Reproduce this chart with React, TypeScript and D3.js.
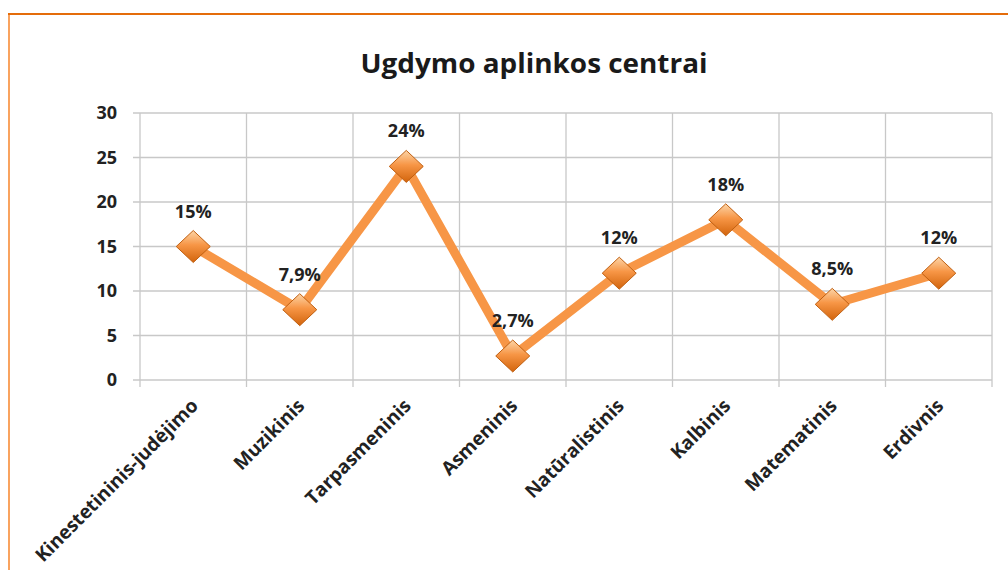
import React, { useEffect, useRef } from 'react';
import * as d3 from 'd3';

const categories = ['Kinestetininis-judėjimo', 'Muzikinis', 'Tarpasmeninis', 'Asmeninis', 'Natūralistinis', 'Kalbinis', 'Matematinis', 'Erdivnis'];
const values = [15, 7.9, 24, 2.7, 12, 18, 8.5, 12];
const valueLabels = ['15%', '7,9%', '24%', '2,7%', '12%', '18%', '8,5%', '12%'];
const yTicks = [0, 5, 10, 15, 20, 25, 30];

const W = 1008;
const H = 570;
const FONT = "'Open Sans', 'Liberation Sans', sans-serif";

export default function App() {
  const ref = useRef<SVGSVGElement>(null);

  useEffect(() => {
    const svg = d3.select(ref.current);
    svg.selectAll('*').remove();

    const left = 140, right = 992, top = 113, bottom = 380;

    const x = d3.scaleBand<string>().domain(categories).range([left, right]);
    const y = d3.scaleLinear().domain([0, 30]).range([bottom, top]);

    // marker gradient
    const defs = svg.append('defs');
    const grad = defs.append('linearGradient').attr('id', 'mk')
      .attr('x1', '0').attr('y1', '0').attr('x2', '0').attr('y2', '1');
    grad.append('stop').attr('offset', '0%').attr('stop-color', '#fcd5a8');
    grad.append('stop').attr('offset', '45%').attr('stop-color', '#f79646');
    grad.append('stop').attr('offset', '100%').attr('stop-color', '#d2640c');

    // frame
    svg.append('rect').attr('x', 0).attr('y', 0).attr('width', W).attr('height', H).attr('fill', '#fff');
    svg.append('line').attr('x1', 9).attr('x2', 9).attr('y1', 14).attr('y2', H)
      .attr('stroke', '#f9a35f').attr('stroke-width', 2);
    svg.append('line').attr('x1', 8).attr('x2', W).attr('y1', 14).attr('y2', 14)
      .attr('stroke', '#e46c0a').attr('stroke-width', 2);

    // title
    svg.append('text').attr('x', 534).attr('y', 73).attr('text-anchor', 'middle')
      .attr('font-family', FONT).attr('font-weight', 'bold').attr('font-size', 26)
      .attr('textLength', 347).attr('lengthAdjust', 'spacingAndGlyphs')
      .attr('fill', '#1a1a1a').text('Ugdymo aplinkos centrai');

    const grid = svg.append('g').attr('stroke', '#c8c8c8').attr('stroke-width', 1.3);
    // horizontal gridlines + y ticks
    grid.selectAll('line.h').data(yTicks).enter().append('line')
      .attr('x1', left - 7).attr('x2', right)
      .attr('y1', d => y(d)).attr('y2', d => y(d));
    // vertical gridlines + x ticks
    const xs = categories.map(c => x(c) as number).concat([right]);
    grid.selectAll('line.v').data(xs).enter().append('line')
      .attr('x1', d => d).attr('x2', d => d)
      .attr('y1', top).attr('y2', bottom + 7);

    // y labels
    svg.append('g').selectAll('text').data(yTicks).enter().append('text')
      .attr('x', 117).attr('y', d => y(d)).attr('dy', '0.35em').attr('text-anchor', 'end')
      .attr('font-family', FONT).attr('font-weight', 'bold').attr('font-size', 18)
      .attr('fill', '#222').text(d => d);

    // x labels
    svg.append('g').selectAll('text').data(categories).enter().append('text')
      .attr('transform', d => `translate(${(x(d) as number) + x.bandwidth() / 2 + 6},${bottom + 27}) rotate(-45)`)
      .attr('text-anchor', 'end')
      .attr('font-family', FONT).attr('font-weight', 'bold').attr('font-size', 19)
      .attr('fill', '#222').text(d => d);

    const cx = (i: number) => (x(categories[i]) as number) + x.bandwidth() / 2;

    // line
    const line = d3.line<number>().x((d, i) => cx(i)).y(d => y(d));
    svg.append('path').datum(values).attr('d', line)
      .attr('fill', 'none').attr('stroke', '#f79646').attr('stroke-width', 9)
      .attr('stroke-linejoin', 'miter');

    // markers
    const s = 17;
    svg.append('g').selectAll('path').data(values).enter().append('path')
      .attr('d', (d, i) => {
        const px = cx(i), py = y(d);
        return `M${px},${py - s + 1}L${px + s},${py}L${px},${py + s - 1}L${px - s},${py}Z`;
      })
      .attr('fill', 'url(#mk)').attr('stroke', '#c05f10').attr('stroke-width', 1);

    // value labels
    svg.append('g').selectAll('text').data(values).enter().append('text')
      .attr('x', (d, i) => cx(i)).attr('y', d => y(d) - 29)
      .attr('text-anchor', 'middle')
      .attr('font-family', FONT).attr('font-weight', 'bold').attr('font-size', 18)
      .attr('fill', '#222').text((d, i) => valueLabels[i]);
  }, []);

  return (
    <svg ref={ref} width={W} height={H} style={{ position: 'absolute', left: 0, top: 0 }} />
  );
}
